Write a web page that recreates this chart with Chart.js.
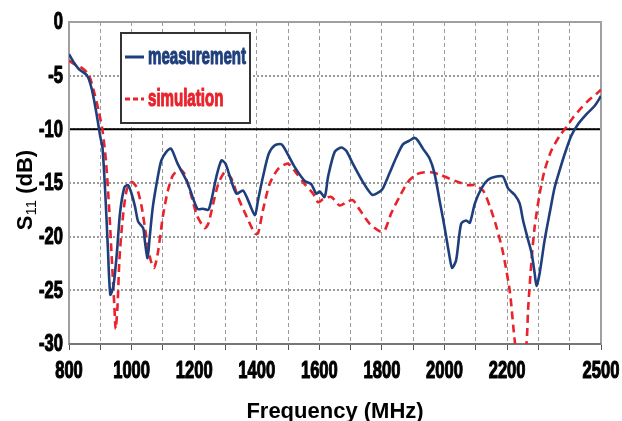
<!DOCTYPE html>
<html>
<head>
<meta charset="utf-8">
<script src="https://cdn.jsdelivr.net/npm/chart.js@4"></script>
<style>
  html, body { margin: 0; padding: 0; background: #fff; }
  #wrap { width: 622px; height: 421px; }
</style>
</head>
<body>
<div id="wrap"><canvas id="s11Chart" width="622" height="421"></canvas></div>
<script>
const measFreq = [800, 816, 832, 858, 874, 890, 900, 907, 916, 924, 932, 942, 953, 963, 977, 989,
  1000, 1011, 1021, 1037, 1042, 1051, 1058, 1068, 1084, 1095, 1111, 1126, 1147, 1179, 1210, 1228, 1245,
  1255, 1271, 1287, 1300, 1314, 1335, 1356, 1372, 1394, 1404, 1420, 1438, 1457, 1479, 1495, 1521,
  1553, 1574, 1590, 1601, 1617, 1628, 1649, 1670, 1686, 1707, 1739, 1769, 1793, 1803, 1824, 1846,
  1867, 1888, 1904, 1915, 1931, 1952, 1968, 1984, 2000, 2014, 2024, 2037, 2053, 2069, 2081, 2097,
  2118, 2139, 2166, 2187, 2203, 2224, 2240, 2251, 2267, 2278, 2288, 2294, 2304, 2320, 2336, 2352,
  2368, 2384, 2405, 2427, 2453, 2480, 2500];
const measS11 = [-3.0, -3.8, -4.4, -5.0, -6.4, -8.9, -10.7, -11.7, -16.0, -20.9, -25.4, -24.6, -21.5, -17.8, -15.4, -15.2,
  -16.0, -17.2, -18.6, -19.2, -20.3, -22.0, -20.0, -17.2, -14.4, -12.9, -12.1, -11.8, -13.2, -15.0, -17.4, -17.4, -17.5,
  -16.6, -14.4, -12.9, -13.2, -14.4, -16.0, -15.7, -16.6, -18.0, -16.6, -14.4, -12.3, -11.5, -11.4, -12.1, -13.5,
  -14.8, -15.1, -16.0, -15.8, -16.3, -14.4, -12.1, -11.7, -12.0, -13.2, -14.9, -16.1, -15.8, -15.5, -14.1, -12.6,
  -11.4, -11.05, -10.8, -11.05, -11.8, -12.7, -14.1, -16.6, -19.1, -21.5, -22.9, -22.2, -18.8, -18.5, -18.7, -16.9,
  -15.5, -14.7, -14.4, -14.4, -15.5, -16.1, -16.9, -18.5, -20.3, -21.5, -23.4, -24.6, -23.4, -20.3, -17.8, -15.4,
  -13.8, -12.3, -10.6, -9.5, -8.6, -7.8, -6.9];

// Simulated S11
const simFreq = [800, 821, 842, 863, 879, 895, 907, 918, 928, 937, 945, 949, 955, 961, 971, 984,
  1000, 1016, 1032, 1047, 1061, 1072, 1084, 1100, 1116, 1132, 1153, 1168, 1189, 1210, 1234, 1245,
  1261, 1277, 1298, 1319, 1340, 1367, 1394, 1404, 1420, 1441, 1468, 1500, 1527, 1553, 1580, 1596,
  1612, 1638, 1665, 1686, 1707, 1729, 1761, 1793, 1809, 1830, 1856, 1883, 1910, 1936, 1957, 1984,
  2016, 2043, 2074, 2097, 2123, 2145, 2166, 2187, 2209, 2224, 2243, 2262, 2267, 2278, 2288, 2304,
  2320, 2341, 2368, 2389, 2411, 2437, 2464, 2485, 2500];
const simS11 = [-3.6, -4.0, -4.3, -4.9, -6.4, -8.3, -10.1, -12.9, -17.2, -22.2, -26.5, -28.6, -26.5, -22.2, -18.5, -15.7,
  -14.9, -15.4, -17.2, -20.0, -22.2, -22.9, -21.5, -18.1, -15.7, -14.3, -13.7, -14.1, -16.0, -18.1, -19.2, -18.8,
  -16.9, -15.1, -14.0, -14.6, -16.3, -18.1, -19.7, -19.7, -17.5, -15.1, -13.7, -13.2, -14.1, -15.1, -16.0, -16.8,
  -16.5, -16.3, -17.1, -16.8, -16.6, -17.5, -18.8, -19.5, -19.4, -17.8, -16.3, -14.9, -14.2, -14.0, -14.0, -14.2,
  -14.6, -14.9, -15.2, -15.2, -15.7, -17.2, -19.1, -21.5, -25.2, -29.6, -33.5, -29.9, -26.8, -22.2, -19.1, -16.0,
  -13.8, -12.0, -10.6, -9.8, -8.9, -8.0, -7.2, -6.7, -6.3];

const seriesNames = ["measurement", "simulation"];
const xLabelled = [800, 1000, 1200, 1400, 1600, 1800, 2000, 2200, 2500];
const refLevel = -10;

const blue = "#1f3f7c";
const red = "#e8232b";
const arial = "'Liberation Sans', Arial, sans-serif";
const squeeze = 0.72; // the original's bold labels are tall and narrow

const toPoints = (xs, ys) => xs.map((x, i) => ({ x: x, y: ys[i] }));

// squeezed, extra-heavy text
function narrowText(ctx, text, x, y, align, sx) {
  ctx.save();
  ctx.translate(x, y);
  ctx.scale(sx, 1);
  ctx.textAlign = align;
  ctx.strokeStyle = ctx.fillStyle;
  ctx.lineWidth = 1.1;
  ctx.lineJoin = "round";
  ctx.fillText(text, 0, 0);
  ctx.strokeText(text, 0, 0);
  ctx.restore();
}

// frame, -10 dB line, tick labels, axis titles and boxed legend
const decor = {
  id: "decor",
  beforeDatasetsDraw(chart) {
    const { ctx, chartArea: a, scales } = chart;
    const y = scales.y.getPixelForValue(refLevel);
    ctx.save();
    ctx.strokeStyle = "#000";
    ctx.lineWidth = 2;
    ctx.beginPath();
    ctx.moveTo(a.left, y);
    ctx.lineTo(a.right, y);
    ctx.stroke();
    ctx.strokeStyle = "#a0a0a0";
    ctx.lineWidth = 2;
    ctx.strokeRect(a.left, a.top, a.right - a.left, a.bottom - a.top);
    ctx.strokeStyle = "#777";
    ctx.beginPath();
    ctx.moveTo(a.left, a.bottom);
    ctx.lineTo(a.right, a.bottom);
    ctx.stroke();
    ctx.restore();
  },
  afterDraw(chart) {
    const { ctx, chartArea: a, scales } = chart;
    ctx.save();
    ctx.fillStyle = "#000";

    // tick labels
    ctx.font = "bold 23px " + arial;
    ctx.textBaseline = "top";
    scales.x.ticks.forEach(t => {
      if (xLabelled.includes(t.value)) {
        narrowText(ctx, String(t.value), scales.x.getPixelForValue(t.value), a.bottom + 16, "center", squeeze);
      }
    });
    ctx.textBaseline = "middle";
    scales.y.ticks.forEach(t => {
      narrowText(ctx, String(t.value), a.left - 6, scales.y.getPixelForValue(t.value) + 1, "right", squeeze);
    });

    // x title
    ctx.font = "bold 22px " + arial;
    ctx.textAlign = "center";
    ctx.textBaseline = "alphabetic";
    ctx.fillText("Frequency (MHz)", (a.left + a.right) / 2, 418);

    // y title with subscript
    ctx.translate(24, 190);
    ctx.rotate(-Math.PI / 2);
    ctx.textAlign = "left";
    ctx.font = "bold 22px " + arial;
    const wS = ctx.measureText("S").width;
    const wRest = ctx.measureText(" (dB)").width;
    ctx.font = "15px " + arial;
    const wSub = ctx.measureText("11").width;
    let x0 = -(wS + wSub + wRest) / 2;
    ctx.font = "bold 22px " + arial;
    ctx.fillText("S", x0, 8);
    ctx.font = "15px " + arial;
    ctx.fillText("11", x0 + wS, 12);
    ctx.font = "bold 22px " + arial;
    ctx.fillText(" (dB)", x0 + wS + wSub, 8);
    ctx.restore();

    // legend box
    ctx.save();
    const bx = 121, by = 33, bw = 129, bh = 90;
    ctx.fillStyle = "#fff";
    ctx.fillRect(bx, by, bw, bh);
    ctx.strokeStyle = "#333";
    ctx.lineWidth = 2;
    ctx.strokeRect(bx, by, bw, bh);
    ctx.font = "bold 23px " + arial;
    const lsx = 98 / ctx.measureText(seriesNames[0]).width;
    const rows = [
      { name: seriesNames[0], color: blue, dash: [], y: 57 },
      { name: seriesNames[1], color: red, dash: [5, 3], y: 99 }
    ];
    rows.forEach(r => {
      ctx.strokeStyle = r.color;
      ctx.lineWidth = 3;
      ctx.setLineDash(r.dash);
      ctx.beginPath();
      ctx.moveTo(bx + 4, r.y);
      ctx.lineTo(bx + 23, r.y);
      ctx.stroke();
      ctx.setLineDash([]);
      ctx.fillStyle = r.color;
      ctx.textBaseline = "middle";
      narrowText(ctx, r.name, bx + 27, r.y + 1, "left", lsx);
    });
    ctx.restore();
  }
};

new Chart(document.getElementById("s11Chart").getContext("2d"), {
  type: "line",
  data: {
    datasets: [
      {
        label: seriesNames[0],
        data: toPoints(measFreq, measS11),
        borderColor: blue,
        borderWidth: 2.6,
        pointRadius: 0,
        tension: 0.25,
        fill: false
      },
      {
        label: seriesNames[1],
        data: toPoints(simFreq, simS11),
        borderColor: red,
        borderWidth: 2.6,
        borderDash: [8, 5],
        pointRadius: 0,
        tension: 0.25,
        fill: false
      }
    ]
  },
  options: {
    responsive: false,
    animation: false,
    layout: { padding: { top: 22, right: 21, left: 0, bottom: 0 } },
    plugins: { legend: { display: false }, tooltip: { enabled: false } },
    scales: {
      x: {
        type: "linear",
        min: 800,
        max: 2500,
        afterFit: s => { s.height = 77; },
        ticks: { stepSize: 100, autoSkip: false, maxRotation: 0, display: false },
        grid: { color: "#9a9a9a", lineWidth: 1, tickLength: 6, tickColor: "#555" },
        border: { display: false, dash: [4, 3] }
      },
      y: {
        min: -30,
        max: 0,
        afterFit: s => { s.width = 69; },
        ticks: { stepSize: 5, display: false },
        grid: { color: "#9a9a9a", lineWidth: 2, drawTicks: false },
        border: { display: false, dash: [2, 2] }
      }
    }
  },
  plugins: [decor]
});
</script>
</body>
</html>
